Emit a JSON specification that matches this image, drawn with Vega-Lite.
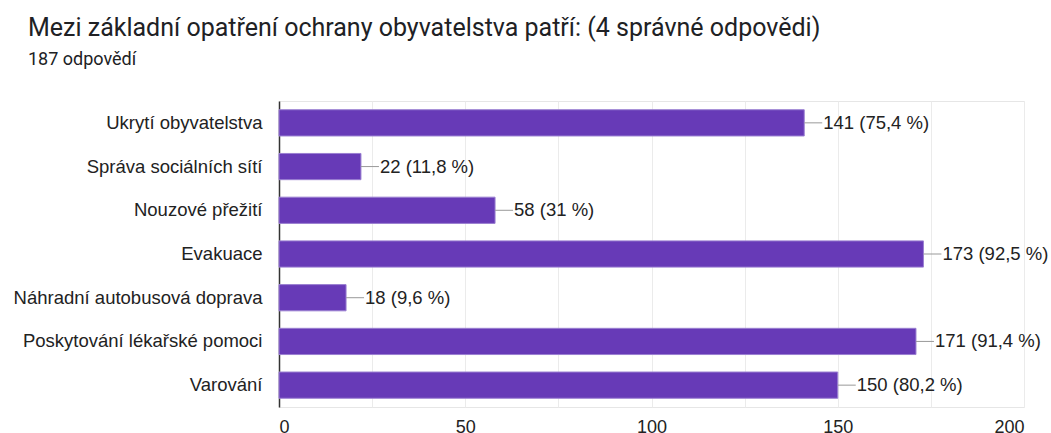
{
  "$schema": "https://vega.github.io/schema/vega-lite/v6.json",
  "autosize": "none",
  "width": 745,
  "height": 306,
  "padding": {"left": 279, "top": 101, "right": 27, "bottom": 26},
  "background": "white",
  "title": {
    "text": "Mezi základní opatření ochrany obyvatelstva patří: (4 správné odpovědi)",
    "subtitle": "187 odpovědí",
    "anchor": "start",
    "frame": "group",
    "dx": -251,
    "offset": 32,
    "font": "Roboto",
    "fontSize": 25,
    "fontWeight": "normal",
    "color": "#202124",
    "subtitleFont": "Roboto",
    "subtitleFontSize": 18,
    "subtitleColor": "#202124",
    "subtitlePadding": 10
  },
  "config": {
    "view": {"stroke": "#e6e6e6", "strokeWidth": 1},
    "font": "Liberation Sans"
  },
  "data": {
    "values": [
      {"option": "Ukrytí obyvatelstva", "count": 141, "label": "141 (75,4 %)"},
      {"option": "Správa sociálních sítí", "count": 22, "label": "22 (11,8 %)"},
      {"option": "Nouzové přežití", "count": 58, "label": "58 (31 %)"},
      {"option": "Evakuace", "count": 173, "label": "173 (92,5 %)"},
      {"option": "Náhradní autobusová doprava", "count": 18, "label": "18 (9,6 %)"},
      {"option": "Poskytování lékařské pomoci", "count": 171, "label": "171 (91,4 %)"},
      {"option": "Varování", "count": 150, "label": "150 (80,2 %)"}
    ]
  },
  "encoding": {
    "y": {
      "field": "option",
      "type": "nominal",
      "sort": null,
      "scale": {"paddingInner": 0.4, "paddingOuter": 0.2},
      "axis": {
        "title": null,
        "ticks": false,
        "domain": true,
        "domainColor": "#333333",
        "domainWidth": 1.5,
        "labelFont": "Liberation Sans",
        "labelFontSize": 18.5,
        "labelColor": "#222222",
        "labelPadding": 17,
        "labelLimit": 300
      }
    }
  },
  "layer": [
    {
      "mark": {"type": "bar", "color": "#673ab7", "stroke": "#9a7fd1", "strokeWidth": 1},
      "encoding": {
        "x": {
          "field": "count",
          "type": "quantitative",
          "scale": {"domain": [0, 200], "nice": false},
          "axis": {
            "title": null,
            "values": [0, 25, 50, 75, 100, 125, 150, 175, 200],
            "labelExpr": "datum.value % 50 === 0 ? datum.label : ''",
            "ticks": false,
            "domain": false,
            "grid": true,
            "gridColor": "#ebebeb",
            "labelFont": "Liberation Sans",
            "labelFontSize": 18,
            "labelColor": "#222222",
            "labelPadding": 11
          }
        }
      }
    },
    {
      "mark": {"type": "rule", "color": "#999999", "strokeWidth": 1, "x2Offset": 18},
      "encoding": {
        "x": {"field": "count", "type": "quantitative"},
        "x2": {"field": "count"}
      }
    },
    {
      "mark": {"type": "text", "align": "left", "baseline": "middle", "dx": 19, "fontSize": 18.5, "color": "#222222", "font": "Liberation Sans"},
      "encoding": {
        "x": {"field": "count", "type": "quantitative"},
        "text": {"field": "label"}
      }
    }
  ]
}
